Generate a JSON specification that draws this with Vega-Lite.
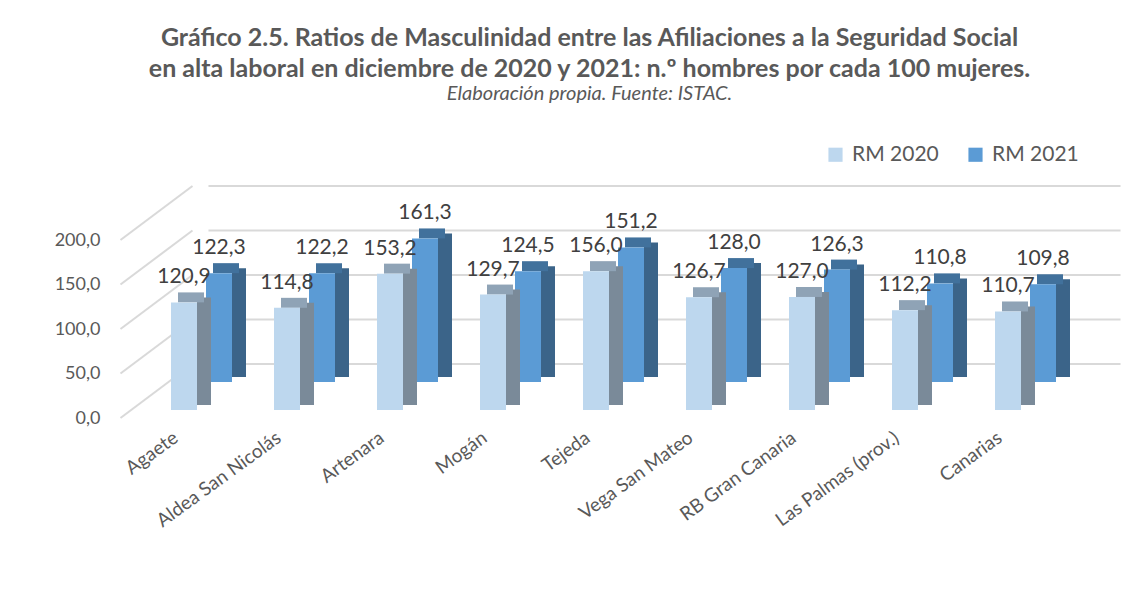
{
  "$schema": "https://vega.github.io/schema/vega-lite/v6.json",
  "width": 927,
  "height": 178,
  "autosize": {"type": "none"},
  "padding": {"left": 150, "top": 232, "right": 57, "bottom": 189},
  "background": "white",
  "config": {
    "view": {"stroke": null},
    "font": "Lato",
    "locale": {"number": {"decimal": ",", "thousands": ".", "grouping": [3], "currency": ["", " €"]}}
  },
  "title": {
    "text": ["Gráfico 2.5. Ratios de Masculinidad entre las Afiliaciones a la Seguridad Social", "en alta laboral en diciembre de 2020 y 2021: n.º hombres por cada 100 mujeres."],
    "subtitle": "Elaboración propia. Fuente: ISTAC.",
    "anchor": "middle",
    "frame": "group",
    "dx": -24,
    "offset": 40,
    "fontSize": 25,
    "fontWeight": "bold",
    "color": "#595959",
    "lineHeight": 31,
    "subtitleFontSize": 20,
    "subtitleFontStyle": "italic",
    "subtitleColor": "#595959",
    "subtitlePadding": 2
  },
  "datasets": {
    "bars": [
      {"municipio": "Agaete", "serie": "RM 2020", "valor": 120.9},
      {"municipio": "Agaete", "serie": "RM 2021", "valor": 122.3},
      {"municipio": "Aldea San Nicolás", "serie": "RM 2020", "valor": 114.8},
      {"municipio": "Aldea San Nicolás", "serie": "RM 2021", "valor": 122.2},
      {"municipio": "Artenara", "serie": "RM 2020", "valor": 153.2},
      {"municipio": "Artenara", "serie": "RM 2021", "valor": 161.3},
      {"municipio": "Mogán", "serie": "RM 2020", "valor": 129.7},
      {"municipio": "Mogán", "serie": "RM 2021", "valor": 124.5},
      {"municipio": "Tejeda", "serie": "RM 2020", "valor": 156.0},
      {"municipio": "Tejeda", "serie": "RM 2021", "valor": 151.2},
      {"municipio": "Vega San Mateo", "serie": "RM 2020", "valor": 126.7},
      {"municipio": "Vega San Mateo", "serie": "RM 2021", "valor": 128.0},
      {"municipio": "RB Gran Canaria", "serie": "RM 2020", "valor": 127.0},
      {"municipio": "RB Gran Canaria", "serie": "RM 2021", "valor": 126.3},
      {"municipio": "Las Palmas (prov.)", "serie": "RM 2020", "valor": 112.2},
      {"municipio": "Las Palmas (prov.)", "serie": "RM 2021", "valor": 110.8},
      {"municipio": "Canarias", "serie": "RM 2020", "valor": 110.7},
      {"municipio": "Canarias", "serie": "RM 2021", "valor": 109.8}
    ],
    "grid": [{"v": 0}, {"v": 50}, {"v": 100}, {"v": 150}, {"v": 200}]
  },
  "layer": [
    {
      "data": {"name": "bars"},
      "encoding": {
        "x": {
          "field": "municipio",
          "type": "nominal",
          "sort": null,
          "scale": {
            "domain": ["Agaete", "Aldea San Nicolás", "Artenara", "Mogán", "Tejeda", "Vega San Mateo", "RB Gran Canaria", "Las Palmas (prov.)", "Canarias"],
            "paddingInner": 0.32,
            "paddingOuter": 0.16
          },
          "axis": {
            "title": null,
            "labelAngle": -36,
            "labelFontSize": 19,
            "labelColor": "#595959",
            "domain": false,
            "ticks": false,
            "labelPadding": 18,
            "labelOffset": -31
          }
        },
        "y": {
          "field": "valor",
          "type": "quantitative",
          "scale": {"domain": [0, 200], "nice": false},
          "axis": {
            "title": null,
            "values": [0, 50, 100, 150, 200],
            "format": ".1f",
            "grid": false,
            "domain": false,
            "ticks": false,
            "labelPadding": 50,
            "labelOffset": 8,
            "labelFontSize": 18,
            "labelColor": "#595959"
          }
        }
      },
      "layer": [
        {
          "data": {"name": "grid"},
          "mark": {"type": "rule", "color": "#D9D9D9", "strokeWidth": 2, "xOffset": 42, "x2Offset": 60, "yOffset": -46, "y2Offset": -46},
          "encoding": {
            "x": {"datum": "Agaete", "type": "nominal", "bandPosition": 0},
            "x2": {"datum": "Canarias", "bandPosition": 1},
            "y": {"field": "v", "type": "quantitative"}
          }
        },
        {
          "data": {"name": "grid"},
          "mark": {"type": "rule", "color": "#D9D9D9", "strokeWidth": 2, "xOffset": -46, "x2Offset": 26, "yOffset": 8, "y2Offset": -46},
          "encoding": {
            "x": {"datum": "Agaete", "type": "nominal", "bandPosition": 0},
            "x2": {"datum": "Agaete", "bandPosition": 0},
            "y": {"field": "v", "type": "quantitative"},
            "y2": {"field": "v"}
          }
        },
        {
          "transform": [{"filter": "datum.serie == 'RM 2021'"}],
          "layer": [
            {"mark": {"type": "bar", "width": 14, "xOffset": 37.5, "yOffset": -33, "y2Offset": -33, "color": "#3B6489"}},
            {"mark": {"type": "bar", "width": 26, "xOffset": 24.5, "yOffset": -38, "y2Offset": -28, "color": "#41719C"}, "encoding": {"y2": {"field": "valor"}}},
            {
              "mark": {"type": "bar", "width": 26, "xOffset": 17.5, "yOffset": -28, "y2Offset": -28},
              "encoding": {
                "color": {
                  "field": "serie",
                  "type": "nominal",
                  "scale": {"domain": ["RM 2020", "RM 2021"], "range": ["#BDD7EE", "#5B9BD5"]},
                  "legend": {"orient": "none", "legendX": 675, "legendY": -88, "direction": "horizontal", "title": null, "symbolType": "square", "symbolSize": 200, "symbolStrokeWidth": 0, "labelFontSize": 21, "labelColor": "#595959", "columnPadding": 26, "labelOffset": 6}
                }
              }
            }
          ]
        },
        {
          "transform": [{"filter": "datum.serie == 'RM 2020'"}],
          "layer": [
            {"mark": {"type": "bar", "width": 14, "xOffset": 2.5, "yOffset": -5, "y2Offset": -5, "color": "#7A8A99"}},
            {"mark": {"type": "bar", "width": 26, "xOffset": -10.5, "yOffset": -10, "y2Offset": 0, "color": "#8FA3B6"}, "encoding": {"y2": {"field": "valor"}}},
            {
              "mark": {"type": "bar", "width": 26, "xOffset": -17.5},
              "encoding": {
                "color": {
                  "field": "serie",
                  "type": "nominal",
                  "scale": {"domain": ["RM 2020", "RM 2021"], "range": ["#BDD7EE", "#5B9BD5"]},
                  "legend": {"orient": "none", "legendX": 675, "legendY": -88, "direction": "horizontal", "title": null, "symbolType": "square", "symbolSize": 200, "symbolStrokeWidth": 0, "labelFontSize": 21, "labelColor": "#595959", "columnPadding": 26, "labelOffset": 6}
                }
              }
            }
          ]
        },
        {
          "transform": [{"filter": "datum.serie == 'RM 2021'"}],
          "mark": {"type": "text", "dx": 17.5, "dy": -43, "baseline": "bottom", "fontSize": 21, "color": "#404040"},
          "encoding": {"text": {"field": "valor", "type": "quantitative", "format": ".1f"}}
        },
        {
          "transform": [{"filter": "datum.serie == 'RM 2020'"}],
          "mark": {"type": "text", "dx": -17.5, "dy": -15, "baseline": "bottom", "fontSize": 21, "color": "#404040"},
          "encoding": {"text": {"field": "valor", "type": "quantitative", "format": ".1f"}}
        }
      ]
    }
  ]
}
